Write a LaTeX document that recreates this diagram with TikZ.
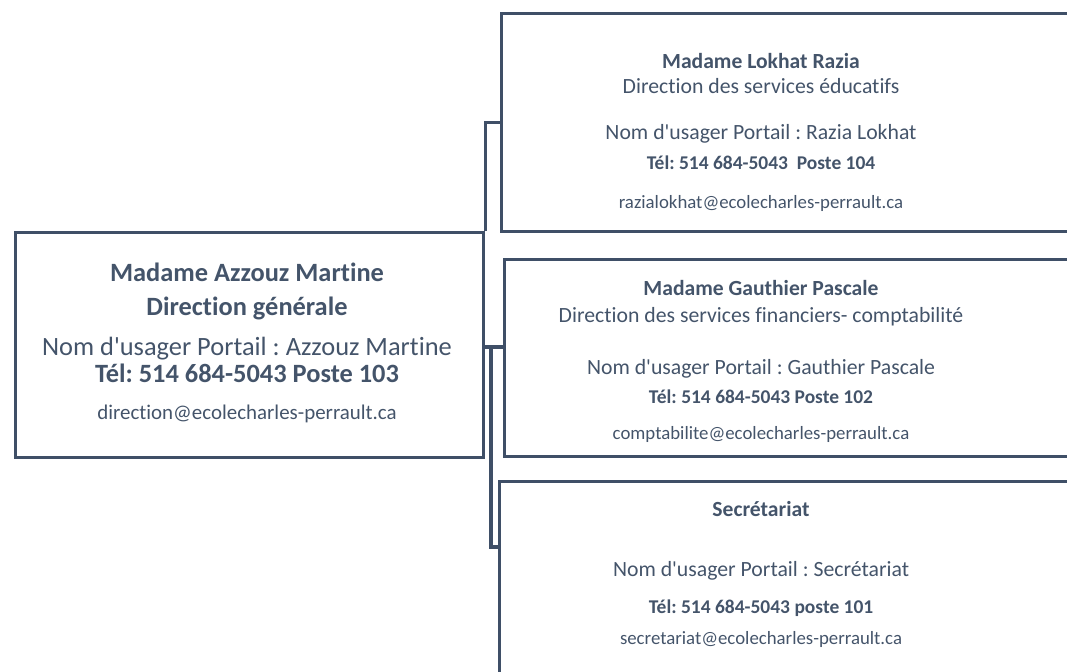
\documentclass[tikz,border=0pt]{standalone}
\usepackage{fontspec}
\setmainfont{Carlito}[Ligatures={NoCommon}]
\frenchspacing
\definecolor{slate}{HTML}{44546A}
\definecolor{edge}{HTML}{3F4F67}

% fonts of the boxes
\newcommand{\rootbold}{\fontsize{19.8}{24}\selectfont\bfseries}
\newcommand{\rootreg}{\fontsize{19.8}{24}\selectfont}
\newcommand{\rootmail}{\fontsize{15.7}{19}\selectfont}
\newcommand{\boxbold}{\fontsize{16.2}{19}\selectfont\bfseries}
\newcommand{\boxreg}{\fontsize{16.3}{19}\selectfont}
\newcommand{\boxtel}{\fontsize{14.6}{17}\selectfont\bfseries}
\newcommand{\boxmail}{\fontsize{14.1}{17}\selectfont}
\newcommand{\usager}{Nom d\textquotesingle usager Portail :}

\tikzset{
  link/.style={draw=edge,line width=2.3pt},
}

\begin{document}
\begin{tikzpicture}[x=0.75pt,y=-0.75pt]
  \useasboundingbox (0,0) rectangle (1067,671);

  \begin{scope}[every node/.style={draw=edge,line width=2.3pt,rectangle,anchor=north west,inner sep=0pt}]
    \node[minimum width=351pt,minimum height=168.75pt] (root) at (14,231) {};
    \node[minimum width=442.5pt,minimum height=163.5pt] (razia) at (500,12) {};
    \node[minimum width=442.5pt,minimum height=147.75pt] (gauth) at (503,258) {};
    \node[minimum width=442.5pt,minimum height=165pt] (secr) at (498,480) {};
  \end{scope}

  \begin{scope}[every node/.style={anchor=base,text=slate,inner sep=0pt}]
    \node[font=\rootbold] (root-1) at (247,281) {Madame Azzouz Martine};
    \node[font=\rootbold] (root-2) at (247,315) {Direction générale};
    \node[font=\rootreg]  (root-3) at (247,355) {\usager{} Azzouz Martine};
    \node[font=\rootbold] (root-4) at (247,382) {Tél: 514 684-5043 Poste 103};
    \node[font=\rootmail] (root-5) at (247,419) {direction@ecolecharles-perrault.ca};

    \node[font=\boxbold] (razia-1) at (761,68) {Madame Lokhat Razia};
    \node[font=\boxreg]  (razia-2) at (761,93) {Direction des services éducatifs};
    \node[font=\boxreg]  (razia-3) at (761,139) {\usager{} Razia Lokhat};
    \node[font=\boxtel]  (razia-4) at (761,169) {Tél: 514 684-5043~ Poste 104};
    \node[font=\boxmail] (razia-5) at (761,208) {razialokhat@ecolecharles-perrault.ca};

    \node[font=\boxbold] (gauth-1) at (761,295) {Madame Gauthier Pascale};
    \node[font=\boxreg]  (gauth-2) at (761,322) {Direction des services financiers- comptabilité};
    \node[font=\boxreg]  (gauth-3) at (761,374) {\usager{} Gauthier Pascale};
    \node[font=\boxtel]  (gauth-4) at (761,403) {Tél: 514 684-5043 Poste 102};
    \node[font=\boxmail] (gauth-5) at (761,439) {comptabilite@ecolecharles-perrault.ca};

    \node[font=\boxbold] (secr-1) at (761,516) {Secrétariat};
    \node[font=\boxreg]  (secr-3) at (761,576) {\usager{} Secrétariat};
    \node[font=\boxtel]  (secr-4) at (761,613) {Tél: 514 684-5043 poste 101};
    \node[font=\boxmail] (secr-5) at (761,644) {secretariat@ecolecharles-perrault.ca};
  \end{scope}

  % connectors
  \coordinate (hub) at (491,347);
  \coordinate (secr-in) at (498,547);
  \draw[link] (root.north east) |- (razia.west);
  \draw[link] (root.east |- hub) -- (hub -| gauth.west);
  \draw[link] (hub) |- (secr-in);

\end{tikzpicture}
\end{document}
